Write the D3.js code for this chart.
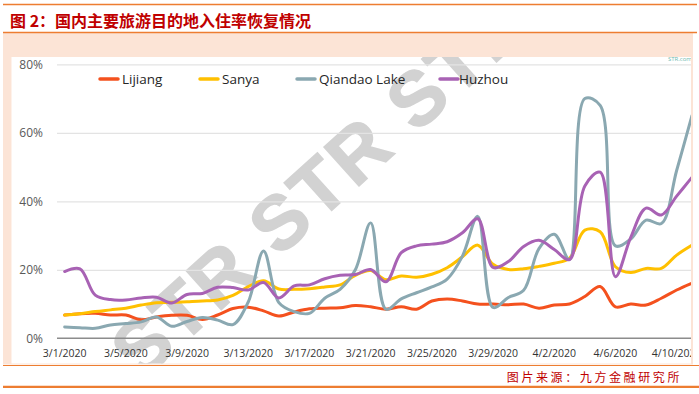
<!DOCTYPE html>
<html>
<head>
<meta charset="utf-8">
<script src="https://cdn.jsdelivr.net/npm/d3@7"></script>
<style>
  html, body { margin: 0; padding: 0; background: #fff; }
  svg { display: block; }
</style>
</head>
<body>
<svg id="chart"></svg>
<script>
const WIDTH = 699
const HEIGHT = 394

// categories: one per day, 3/1/2020 .. 4/11/2020
const dates = d3.timeDay.range(new Date(2020, 2, 1), new Date(2020, 3, 12)).map(d3.timeFormat("%-m/%-d/%Y"))
const tickDates = dates.filter((d, i) => i % 4 === 0)
const yTicks = [0, 20, 40, 60, 80]

const seriesNames = ["Lijiang", "Sanya", "Qiandao Lake", "Huzhou"]

const lijiang = [6.8, 7.2, 7.3, 6.8, 6.8, 5.4, 6.2, 6.7, 6.7, 5.5, 6.8, 8.7, 9.1, 8.0, 6.5, 7.7,
  8.6, 8.8, 8.9, 9.6, 9.2, 8.5, 9.2, 8.5, 10.9, 11.5, 10.9, 10.0, 10.0, 9.8, 10.0, 8.8,
  9.7, 10.0, 12.2, 15.1, 9.2, 10.0, 9.7, 11.7, 14.1, 16.1]
const sanya = [6.8, 7.2, 7.8, 8.3, 8.8, 9.7, 10.4, 10.5, 10.7, 10.9, 11.2, 12.5, 15.1, 16.8, 14.4, 14.3,
  14.5, 15.0, 15.6, 18.4, 19.8, 17.1, 18.2, 17.8, 18.7, 20.6, 23.8, 27.2, 21.6, 20.1, 20.3, 21.0,
  21.9, 23.4, 31.6, 31.1, 20.9, 19.2, 20.4, 20.4, 24.3, 27.2]
const qiandao = [3.3, 3.1, 2.9, 3.9, 4.3, 4.8, 6.2, 3.5, 4.9, 6.1, 5.3, 4.0, 10.6, 25.5, 10.4, 7.8,
  7.3, 11.7, 14.3, 20.0, 33.7, 8.5, 11.5, 13.3, 15.0, 17.3, 24.0, 35.6, 9.0, 11.9, 14.0, 26.2,
  30.4, 23.0, 70.0, 68.0, 27.0, 29.0, 34.5, 33.5, 49.0, 65.0]
const huzhou = [19.5, 20.3, 12.6, 11.3, 11.2, 11.8, 12.0, 10.3, 12.8, 13.1, 14.9, 14.8, 14.1, 16.3, 11.8, 15.3,
  15.6, 17.4, 18.4, 18.6, 20.1, 16.5, 25.0, 27.0, 27.5, 28.2, 30.8, 34.9, 20.7, 22.4, 26.8, 28.6,
  25.9, 23.0, 44.5, 48.5, 18.0, 29.5, 38.0, 36.0, 41.5, 47.0]

const seriesValues = [lijiang, sanya, qiandao, huzhou]
const seriesColors = ["#f4511e", "#ffc000", "#8aa8b1", "#a862b4"]

const svg = d3.select("#chart")
  .attr("width", WIDTH)
  .attr("height", HEIGHT)
  .style("font-family", "'Open Sans', 'Noto Sans', sans-serif")

// page frame: orange rules, peach panel, white chart area
svg.append("rect").attr("width", WIDTH).attr("height", HEIGHT).attr("fill", "#fff")
svg.append("line").attr("x1", 3).attr("x2", 697).attr("y1", 4.5).attr("y2", 4.5)
  .attr("stroke", "#ed7d31").attr("stroke-width", 1.5)
svg.append("text")
  .attr("x", 10).attr("y", 27)
  .attr("fill", "#c00000")
  .style("font-family", "'Noto Sans CJK SC', sans-serif")
  .style("font-weight", "bold")
  .style("font-size", "16px")
  .text("图 2：国内主要旅游目的地入住率恢复情况")
svg.append("rect").attr("x", 3).attr("y", 32.5).attr("width", 690).attr("height", 332)
  .attr("fill", "#fce4d6")
svg.append("line").attr("x1", 3).attr("x2", 697).attr("y1", 32.5).attr("y2", 32.5)
  .attr("stroke", "#ed7d31").attr("stroke-width", 1.5)

const chartBox = { x0: 11.5, y0: 57, x1: 691, y1: 363.5 }
svg.append("rect")
  .attr("x", chartBox.x0).attr("y", chartBox.y0)
  .attr("width", chartBox.x1 - chartBox.x0).attr("height", chartBox.y1 - chartBox.y0)
  .attr("fill", "#fff")

svg.append("defs").append("clipPath").attr("id", "chartClip")
  .append("rect")
  .attr("x", chartBox.x0).attr("y", chartBox.y0)
  .attr("width", chartBox.x1 - chartBox.x0).attr("height", chartBox.y1 - chartBox.y0)

const chart = svg.append("g").attr("clip-path", "url(#chartClip)")

// watermark
chart.append("text")
  .attr("transform", "translate(320,184) rotate(-42)")
  .attr("text-anchor", "middle")
  .attr("dy", "0.36em")
  .attr("fill", "#d2d2d2")
  .attr("stroke", "#d2d2d2")
  .attr("stroke-width", 1.5)
  .style("font-family", "'Liberation Sans', Arial, sans-serif")
  .style("font-weight", "bold")
  .style("font-size", "76px")
  .style("letter-spacing", "3px")
  .text("STR STR STR")

chart.append("text")
  .attr("x", 668).attr("y", 61)
  .attr("fill", "#6fb9b0")
  .style("font-size", "6px")
  .text("STR.com")

// scales
const x = d3.scaleBand()
  .domain(dates)
  .range([57, 57 + 15.3 * dates.length])
  .padding(0)
const xPos = d => x(d) + x.bandwidth() / 2

const y = d3.scaleLinear()
  .domain([0, 80])
  .range([338.3, 64.3])

// gridlines
chart.append("g")
  .attr("transform", "translate(57,0)")
  .call(d3.axisLeft(y).tickValues(yTicks.slice(1)).tickSize(-(chartBox.x1 - 57)).tickFormat(""))
  .call(g => g.select(".domain").remove())
  .call(g => g.selectAll("line").attr("stroke", "#e3e3e3").attr("stroke-width", 1.2))

// y labels
svg.append("g")
  .attr("transform", "translate(57,0)")
  .call(d3.axisLeft(y).tickValues(yTicks).tickSize(0).tickPadding(14).tickFormat(d => d + "%"))
  .call(g => g.select(".domain").remove())
  .call(g => g.selectAll("text")
    .attr("fill", "#595959")
    .style("font-family", "'Open Sans', sans-serif")
    .style("font-size", "12px"))

// x axis
chart.append("g")
  .attr("transform", `translate(0,${y(0)})`)
  .call(d3.axisBottom(x).tickValues(tickDates).tickSize(0).tickPadding(11.5))
  .call(g => g.select(".domain")
    .attr("d", `M57,0H${chartBox.x1}`)
    .attr("stroke", "#8c8c8c")
    .attr("stroke-width", 1.5))
  .call(g => g.selectAll("text")
    .attr("fill", "#333")
    .style("font-family", "'Open Sans', sans-serif")
    .style("font-size", "10.5px"))

// series lines
const line = d3.line()
  .x((v, i) => xPos(dates[i]))
  .y(v => y(v))
  .curve(d3.curveCatmullRom.alpha(0.5))

seriesValues.forEach((vals, k) => {
  chart.append("path")
    .datum(vals)
    .attr("d", line)
    .attr("fill", "none")
    .attr("stroke", seriesColors[k])
    .attr("stroke-width", 3)
    .attr("stroke-linejoin", "round")
    .attr("stroke-linecap", "round")
})

// legend
const legendX = [100, 200, 297, 440]
const legend = svg.append("g")
seriesNames.forEach((name, k) => {
  let item = legend.append("g").attr("transform", `translate(${legendX[k]},79)`)
  item.append("line")
    .attr("x1", 0).attr("x2", 18)
    .attr("stroke", seriesColors[k])
    .attr("stroke-width", 3.5)
    .attr("stroke-linecap", "round")
  item.append("text")
    .attr("x", k === 3 ? 19 : 22)
    .attr("y", 5)
    .attr("fill", "#262626")
    .style("font-size", "13.5px")
    .text(name)
})

// footer
svg.append("line").attr("x1", 3).attr("x2", 699).attr("y1", 365.5).attr("y2", 365.5)
  .attr("stroke", "#ed7d31").attr("stroke-width", 1)
svg.append("text")
  .attr("x", 682).attr("y", 382)
  .attr("text-anchor", "end")
  .attr("fill", "#c00000")
  .style("font-family", "'Noto Sans CJK SC', sans-serif")
  .style("font-size", "12px")
  .style("letter-spacing", "2.6px")
  .text("图片来源：九方金融研究所")
svg.append("line").attr("x1", 3).attr("x2", 699).attr("y1", 386.8).attr("y2", 386.8)
  .attr("stroke", "#ed7d31").attr("stroke-width", 2.2)
</script>
</body>
</html>
